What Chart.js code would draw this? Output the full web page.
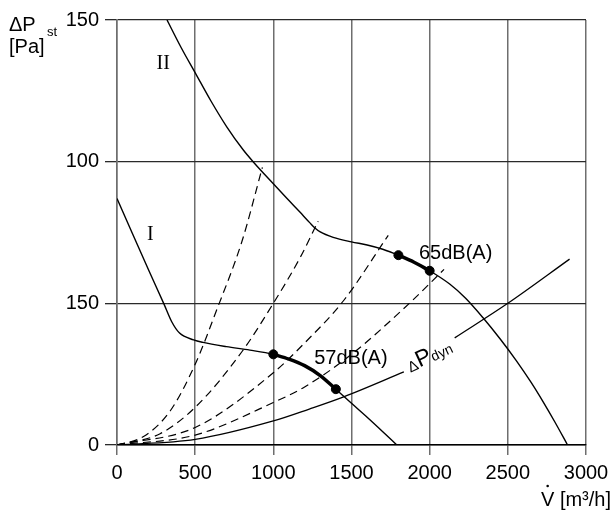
<!DOCTYPE html>
<html>
<head>
<meta charset="utf-8">
<script src="https://cdn.jsdelivr.net/npm/chart.js@4.4.1/dist/chart.umd.min.js"></script>
<style>
  html, body { margin: 0; padding: 0; background: #fff; }
  #wrap { width: 615px; height: 510px; }
</style>
</head>
<body>
<div id="wrap"><canvas id="fan"></canvas></div>
<script>
// fan curves, [V m3/h, dP Pa]
const CURVE_I = [[0, 87], [100, 74.5], [200, 62], [300, 49.8], [350, 43.5], [400, 39.5], [490, 37.1], [550, 36.2],
  [700, 34.7], [850, 33.5], [1000, 32], [1100, 30.3], [1200, 28], [1300, 24.5], [1400, 19.7], [1500, 14.7],
  [1600, 9.8], [1700, 4.7], [1790, 0]];
const CURVE_II = [[320, 150], [410, 140.3], [504, 131], [600, 121.5], [702, 112.3], [808, 104.1], [872, 99.9],
  [1000, 92.2], [1100, 86.3], [1170, 82.2], [1234, 78.4], [1266, 76.6], [1300, 75.2], [1383, 73.3], [1500, 71.7],
  [1600, 70.6], [1700, 69.1], [1800, 67], [1900, 64.5], [2000, 61.5], [2128, 56.8], [2230, 51.8], [2340, 45],
  [2450, 37.5], [2554, 29.8], [2650, 22], [2724, 15.4], [2800, 8.2], [2882, 0]];
const BOLD_I = [[1000, 32], [1100, 30.3], [1200, 28], [1300, 24.5], [1400, 19.7]];
const BOLD_II = [[1800, 67], [1900, 64.5], [2000, 61.5]];
const DOTS = [[1000, 32], [1400, 19.7], [1800, 67], [2000, 61.5]];
const DP_DYN = [[0, 0], [500, 2], [1000, 8.5], [1230, 12.7], [1450, 17], [1835, 25.8], [2000, null], [2160, 37.8],
  [2500, 50], [2895, 65.6]];
// system resistance lines (dashed)
const SYS_1 = [[0, 0], [170, 3], [340, 12], [500, 28.5], [640, 48], [800, 72], [930, 98]];
const SYS_2 = [[0, 0], [276, 4], [504, 13.5], [800, 33], [1000, 50], [1170, 66], [1287, 79]];
const SYS_3 = [[0, 0], [500, 6.2], [1000, 25.5], [1200, 36], [1450, 51], [1735, 74]];
const SYS_4 = [[0, 0], [500, 3.5], [1000, 15], [1200, 20.5], [1500, 32], [1870, 50], [2092, 62]];

const X_TICKS = [0, 500, 1000, 1500, 2000, 2500, 3000];
const Y_TICK_LABELS = ['0', '150', '100', '150'];

const C = {
  ink: '#000',
  vgrid: '#6e6e6e',
  hgrid: '#2a2a2a',
};
const SANS = "'Liberation Sans', Arial, sans-serif";
const SERIF = "'Liberation Serif', 'Times New Roman', serif";

function toXY(pairs) {
  return pairs.map(([x, y]) => ({ x, y }));
}

function solid(pairs, width) {
  return {
    data: toXY(pairs),
    borderColor: C.ink,
    borderWidth: width,
    pointRadius: 0,
    cubicInterpolationMode: 'monotone',
    spanGaps: false,
  };
}

function dashed(pairs) {
  return {
    data: toXY(pairs),
    borderColor: C.ink,
    borderWidth: 1.2,
    borderDash: [8, 5],
    pointRadius: 0,
    cubicInterpolationMode: 'monotone',
  };
}

function text(ctx, str, x, y, font, align) {
  ctx.font = font;
  ctx.textAlign = align || 'center';
  ctx.textBaseline = 'middle';
  ctx.fillText(str, x, y);
}

const labelPlugin = {
  id: 'labels',
  afterDraw(chart) {
    const { ctx } = chart;
    const xs = chart.scales.x;
    const ys = chart.scales.y;
    const px = (v) => xs.getPixelForValue(v);
    const py = (v) => ys.getPixelForValue(v);
    ctx.save();
    ctx.fillStyle = C.ink;

    // axis titles
    text(ctx, '\u0394P', 9, 25, '20px ' + SANS, 'left');
    text(ctx, 'st', 47, 32, '13px ' + SANS, 'left');
    text(ctx, '[Pa]', 9, 47, '20px ' + SANS, 'left');
    const xt = 'V [m\u00b3/h]';
    text(ctx, xt, 611, 500, '20px ' + SANS, 'right');
    ctx.font = '20px ' + SANS;
    const vx = 611 - ctx.measureText(xt).width + ctx.measureText('V').width / 2;
    ctx.beginPath();
    ctx.arc(vx, 486, 1.3, 0, Math.PI * 2);
    ctx.fill();

    // curve names
    text(ctx, 'II', px(296), py(134.6), '20px ' + SERIF);
    text(ctx, 'I', px(213), py(74.2), '20px ' + SERIF);

    // noise levels
    text(ctx, '65dB(A)', px(2166), py(67.5), '20px ' + SANS);
    text(ctx, '57dB(A)', px(1496), py(30.5), '20px ' + SANS);

    // dynamic pressure label, along the line
    ctx.translate(px(1962), py(30.5));
    ctx.rotate(-25 * Math.PI / 180);
    text(ctx, '\u0394', -13, 3, '15px ' + SANS, 'center');
    text(ctx, 'P', 0, 0, '23px ' + SANS, 'center');
    text(ctx, 'dyn', 19, 3, '14px ' + SANS, 'center');
    ctx.restore();
  },
};

Chart.defaults.font.family = SANS;
Chart.defaults.font.size = 20;
Chart.defaults.color = C.ink;

new Chart(document.getElementById('fan').getContext('2d'), {
  type: 'line',
  data: {
    datasets: [
      dashed(SYS_1),
      dashed(SYS_2),
      dashed(SYS_3),
      dashed(SYS_4),
      solid(DP_DYN, 1.3),
      solid(CURVE_I, 1.4),
      solid(CURVE_II, 1.4),
      solid(BOLD_I, 3.5),
      solid(BOLD_II, 3.5),
      {
        data: toXY(DOTS),
        showLine: false,
        pointRadius: 4.5,
        pointBackgroundColor: C.ink,
        pointBorderColor: C.ink,
      },
    ],
  },
  options: {
    responsive: true,
    maintainAspectRatio: false,
    animation: false,
    layout: { padding: { top: 20, right: 29, bottom: 22, left: 0 } },
    plugins: { legend: { display: false }, tooltip: { enabled: false } },
    scales: {
      x: {
        type: 'linear',
        min: 0,
        max: 3000,
        afterBuildTicks: (s) => { s.ticks = X_TICKS.map((v) => ({ value: v })); },
        afterFit: (s) => { s.height = 43; },
        grid: { color: C.vgrid, lineWidth: 1.5, tickLength: 10 },
        border: { color: C.ink, width: 1.5 },
        ticks: { padding: 6, maxRotation: 0, callback: (v) => String(v) },
      },
      y: {
        min: 0,
        max: 150,
        afterFit: (s) => { s.width = 117; },
        grid: { color: C.hgrid, lineWidth: 1.3, tickLength: 12 },
        border: { color: C.vgrid, width: 1.5 },
        ticks: {
          stepSize: 50,
          padding: 6,
          callback: (v) => Y_TICK_LABELS[v / 50],
        },
      },
    },
  },
  plugins: [labelPlugin],
});
</script>
</body>
</html>
